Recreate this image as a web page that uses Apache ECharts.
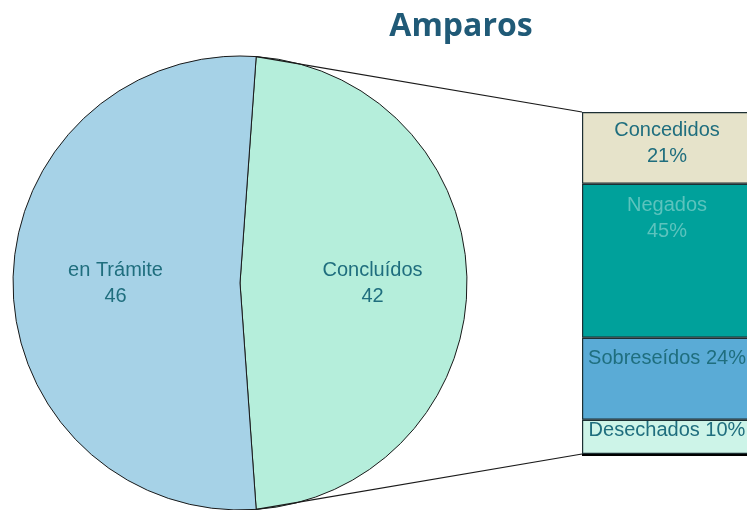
<!DOCTYPE html>
<html>
<head>
<meta charset="utf-8">
<script src="https://cdn.jsdelivr.net/npm/echarts@6/dist/echarts.min.js"></script>
<style>html,body{margin:0;padding:0;background:#fff;overflow:hidden}#c{width:780px;height:510px}</style>
</head>
<body>
<div id="c"></div>
<script>
// ---- data ----
const pieNames = ['Concluídos', 'en Trámite'];
const pieValues = [42, 46];
const barNames = ['Concedidos', 'Negados', 'Sobreseídos', 'Desechados'];
const barValues = [21, 45, 24, 10];
const titleText = 'Amparos';

// ---- styles / layout ----
const pieColors = ['#b5eedb', '#a6d2e7'];
const barColors = ['#e6e3ca', '#00a19b', '#5aabd6', '#cdf4e8'];
const barLabelColors = ['#1f6e7e', '#5cc3bd', '#1f6e7e', '#1f6e7e'];
const barLabelTwoLines = [true, true, false, false];
const barLabelDist = [5, 9, 8, -2];
const textColor = '#1f6e7e';
const PIE = { cx: 240, cy: 283, r: 227 };
const GRID = { left: 582, top: 112, width: 170, height: 342 };

const chart = echarts.init(document.getElementById('c'), null, { renderer: 'canvas' });

const barSeries = barNames.map((n, i) => ({
  type: 'bar',
  name: n,
  stack: 'total',
  barWidth: '100%',
  data: [barValues[i]],
  itemStyle: { color: barColors[i], borderColor: '#1c2f33', borderWidth: 1.2 },
  label: {
    show: true,
    position: 'insideTop',
    distance: barLabelDist[i],
    color: barLabelColors[i],
    fontFamily: 'Liberation Sans, Arial, sans-serif',
    fontSize: 20,
    lineHeight: 26,
    formatter: () => barLabelTwoLines[i] ? n + '\n' + barValues[i] + '%' : n + ' ' + barValues[i] + '%'
  },
  z: 3
}));

const halfAngle = (pieValues[0] / (pieValues[0] + pieValues[1])) * 180;
const sa = halfAngle; // Concluídos centred on the right side
const rad = sa * Math.PI / 180;
const topPt = [PIE.cx + PIE.r * Math.cos(rad), PIE.cy - PIE.r * Math.sin(rad)];
const botPt = [PIE.cx + PIE.r * Math.cos(rad), PIE.cy + PIE.r * Math.sin(rad)];

chart.setOption({
  animation: false,
  backgroundColor: '#fff',
  title: {
    text: titleText,
    left: 456,
    top: 6,
    textAlign: 'center',
    textStyle: { fontFamily: 'Open Sans', fontWeight: 'bold', fontSize: 32, color: '#205a77' }
  },
  grid: { left: GRID.left, top: GRID.top, width: GRID.width, height: GRID.height, containLabel: false },
  xAxis: { type: 'category', data: ['Concluídos'], show: false },
  yAxis: { type: 'value', min: 0, max: 100, inverse: true, show: false },
  series: [
    {
      type: 'pie',
      center: [PIE.cx, PIE.cy],
      radius: [0, PIE.r],
      startAngle: sa,
      clockwise: true,
      data: pieNames.map((n, i) => ({
        name: n,
        value: pieValues[i],
        itemStyle: { color: pieColors[i] },
        label: { offset: [i === 0 ? 16 : -8, 0] }
      })),
      itemStyle: { borderColor: '#1a1a1a', borderWidth: 1 },
      label: {
        show: true,
        position: 'inside',
        color: textColor,
        fontFamily: 'Liberation Sans, Arial, sans-serif',
        fontSize: 20,
        lineHeight: 26,
        formatter: p => p.name + '\n' + p.value
      },
      labelLine: { show: false },
      emphasis: { disabled: true },
      z: 2
    },
    ...barSeries
  ],
  graphic: [
    { type: 'line', shape: { x1: topPt[0], y1: topPt[1], x2: GRID.left, y2: GRID.top }, style: { stroke: '#1a1a1a', lineWidth: 1.2 }, z: 10 },
    { type: 'line', shape: { x1: botPt[0], y1: botPt[1], x2: GRID.left, y2: GRID.top + GRID.height }, style: { stroke: '#1a1a1a', lineWidth: 1.2 }, z: 10 },
    { type: 'line', shape: { x1: GRID.left, y1: GRID.top + GRID.height + 1, x2: GRID.left + GRID.width, y2: GRID.top + GRID.height + 1 }, style: { stroke: '#000', lineWidth: 2 }, z: 10 }
  ]
});
</script>
</body>
</html>
